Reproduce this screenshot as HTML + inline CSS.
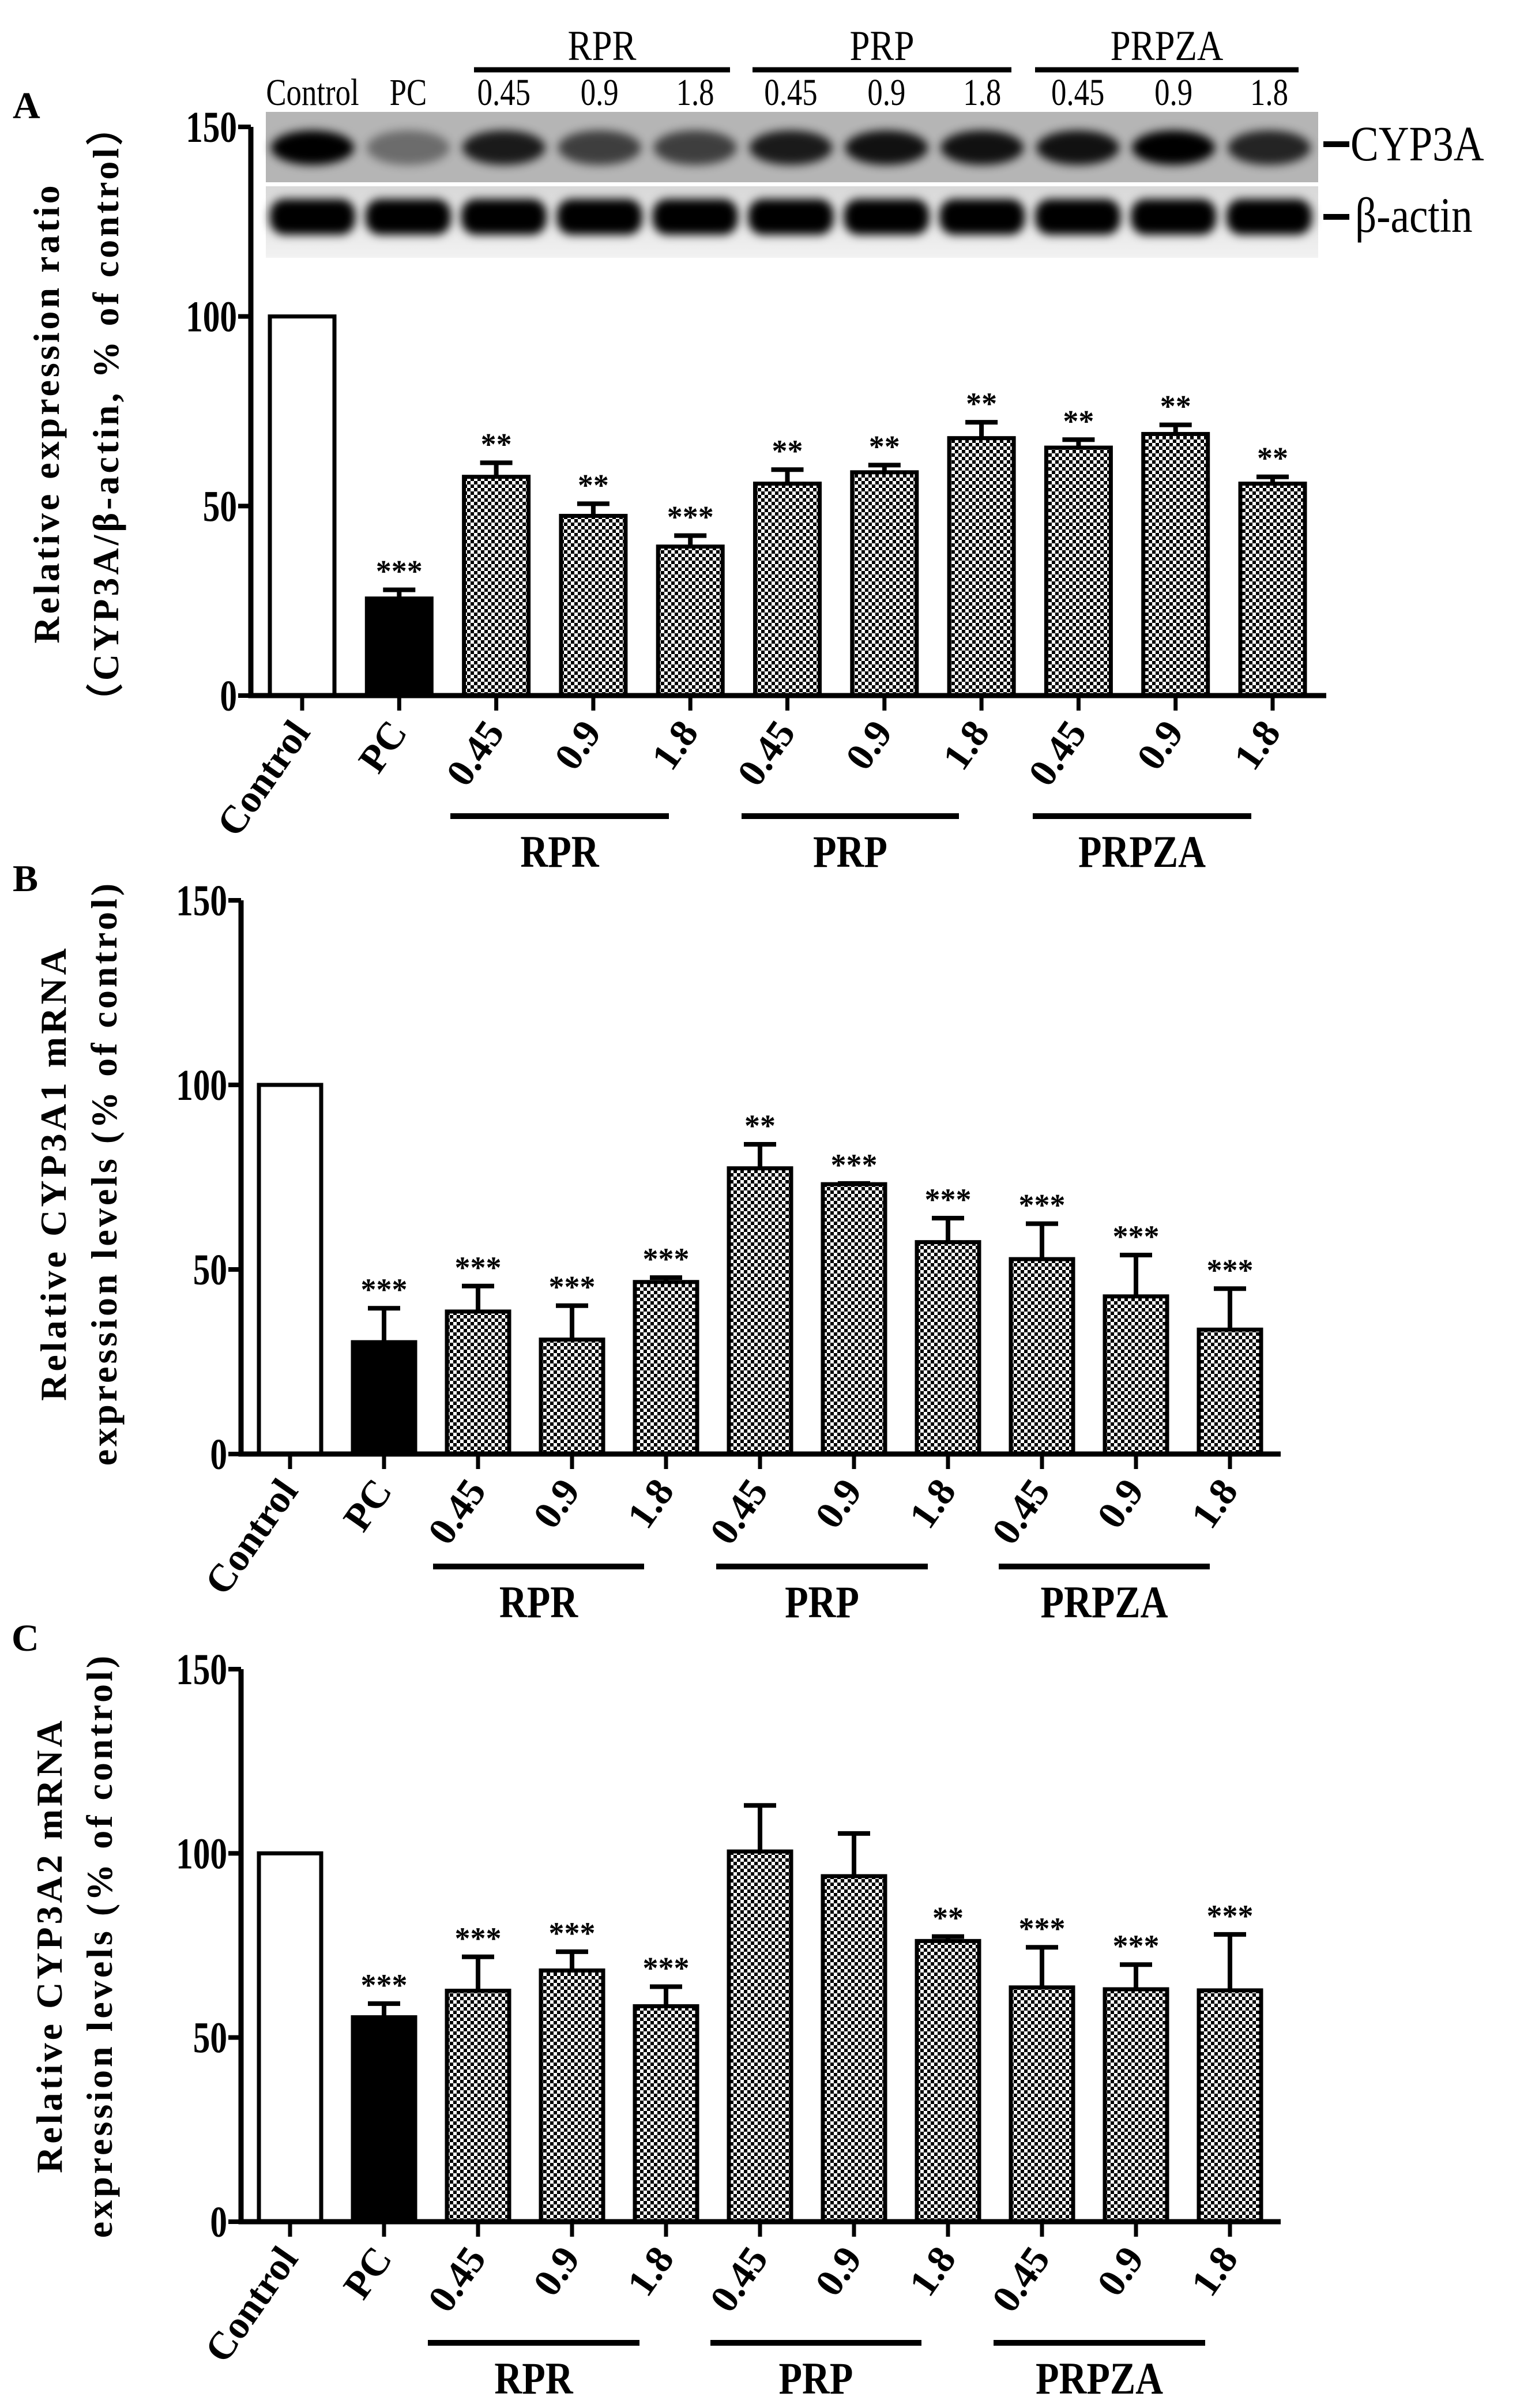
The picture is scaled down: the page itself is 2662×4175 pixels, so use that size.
<!DOCTYPE html>
<html><head><meta charset="utf-8"><style>
html,body{margin:0;padding:0;background:#fff;}
svg{display:block;font-family:"Liberation Serif",serif;font-weight:bold;}
</style></head><body>
<svg id="fig" width="2662" height="4175" viewBox="0 0 2662 4175" xmlns="http://www.w3.org/2000/svg">
<defs>
<pattern id="chk" width="12" height="12" patternUnits="userSpaceOnUse">
<rect width="12" height="12" fill="#fff"/>
<rect x="0" y="0" width="6" height="6" fill="#000"/>
<rect x="6" y="6" width="6" height="6" fill="#000"/>
</pattern>
<filter id="blur" x="-20%" y="-50%" width="140%" height="200%"><feGaussianBlur stdDeviation="8"/></filter>
<linearGradient id="bg2" x1="0" y1="0" x2="0" y2="1"><stop offset="0" stop-color="#d8d8d8"/><stop offset="1" stop-color="#f2f2f2"/></linearGradient>
</defs>
<g id="blot">
<rect x="461" y="194" width="1825" height="122" fill="#b5b5b5"/>
<rect x="461" y="323" width="1825" height="124" fill="url(#bg2)"/>
</g>
<g id="charts"></g>
</svg>
<script>
// ---- data ----
const categories = ["Control","PC","0.45","0.9","1.8","0.45","0.9","1.8","0.45","0.9","1.8"];
const groupNames = ["RPR","PRP","PRPZA"];
const yTicks = [0,50,100,150];
const aValues = [100,25.6,57.7,47.4,39.3,55.9,58.9,67.9,65.4,69,55.9];
const aErrTops = [100,27.9,61.4,50.6,42.2,59.6,60.8,72.1,67.5,71.4,57.7];
const aStars = ["","***","**","**","***","**","**","**","**","**","**"];
const bValues = [100,30.3,38.6,31,46.6,77.4,73.1,57.4,52.8,42.7,33.7];
const bErrTops = [100,39.5,45.5,40.2,47.8,83.9,73.3,63.9,62.4,53.9,44.8];
const bStars = ["","***","***","***","***","**","***","***","***","***","***"];
const cValues = [100,55.5,62.7,68.2,58.5,100.5,93.8,76.2,63.6,63.1,62.8];
const cErrTops = [100,59.2,71.9,73.3,63.8,113,105.4,77.4,74.5,69.8,78];
const cStars = ["","***","***","***","***","","","**","***","***","***"];
const cypIntensity = [1,0.4,0.85,0.65,0.65,0.85,0.9,0.9,0.9,1,0.8];
const actinIntensity = [1,1,1,1,1,1,1,1,1,1,1];

const NS="http://www.w3.org/2000/svg";
function mk(tag,attrs,parent,text){const e=document.createElementNS(NS,tag);for(const k in attrs)e.setAttribute(k,attrs[k]);if(text!==undefined)e.textContent=text;parent.appendChild(e);return e;}
const root=document.getElementById('charts');

const blot=document.getElementById('blot');
const laneX=i=>542+i*165.9;
cypIntensity.forEach((v,i)=>{
  const b=mk('ellipse',{cx:laneX(i),cy:256,rx:72,ry:30,fill:'#000',opacity:v,filter:'url(#blur)'},blot);
  
  
});
actinIntensity.forEach((v,i)=>{
  const b=mk('rect',{x:laneX(i)-74,y:345,width:148,height:62,rx:26,fill:'#000',opacity:v,filter:'url(#blur)'},blot);
  
  
});
categories.forEach((c,i)=>{
  const t=mk('text',{x:laneX(i),y:182,'font-size':66,'font-weight':'normal','text-anchor':'middle',transform:`translate(${laneX(i)},0) scale(0.8,1) translate(${-laneX(i)},0)`},blot,c);
  
  
});
[[822,1266],[1305,1754],[1795,2252]].forEach((g,i)=>{
  const l=mk('line',{x1:g[0],x2:g[1],y1:121,y2:121,stroke:'#000','stroke-width':9},blot);
  
  
  const cx=(g[0]+g[1])/2;
  const t=mk('text',{x:cx,y:104,'font-size':74,'font-weight':'normal','text-anchor':'middle',transform:`translate(${cx},0) scale(0.85,1) translate(${-cx},0)`},blot,groupNames[i]);
  
  
});
const m1=mk('line',{x1:2295,x2:2340,y1:250,y2:250,stroke:'#000','stroke-width':10},blot);


const t1=mk('text',{x:2342,y:278,'font-size':86,'font-weight':'normal',transform:'translate(2342,0) scale(0.85,1) translate(-2342,0)'},blot,'CYP3A');


const m2=mk('line',{x1:2295,x2:2340,y1:376,y2:376,stroke:'#000','stroke-width':10},blot);


const t2=mk('text',{x:2350,y:402,'font-size':86,'font-weight':'normal',transform:'translate(2350,0) scale(0.85,1) translate(-2350,0)'},blot,'β-actin');



function panel(p){
  const g=mk('g',{},root);
  
  
  const y=v=>p.y0-(v/150)*(p.y0-p.y150);
  const x=i=>p.x0+i*p.step;
  const lt=mk('text',{x:p.lx,y:p.ly,'font-size':66},g,p.letter);
  
  
  categories.forEach((c,i)=>{
    const fill=i===0?'#fff':(i===1?'#000':'url(#chk)');
    const r=mk('rect',{x:x(i)-p.bw/2,y:y(p.vals[i]),width:p.bw,height:y(0)-y(p.vals[i]),fill:fill,stroke:'#000','stroke-width':7},g);
    
    
    if(p.errs[i]>p.vals[i]+0.01){
      const e=mk('path',{d:`M${x(i)} ${y(p.vals[i])} V${y(p.errs[i])} M${x(i)-28} ${y(p.errs[i])} H${x(i)+28}`,stroke:'#000','stroke-width':8,fill:'none'},g);
      
      
    }
    if(p.stars[i]){
      const s=mk('text',{x:x(i),y:y(p.errs[i])-14,'font-size':54,'text-anchor':'middle'},g,p.stars[i]);
      
      
    }
    const tk=mk('line',{x1:x(i),x2:x(i),y1:y(0),y2:y(0)+26,stroke:'#000','stroke-width':7},g);
    
    
    const lb=mk('text',{x:x(i)+16,y:y(0)+64,'font-size':68,'text-anchor':'end',transform:`rotate(-55 ${x(i)+16} ${y(0)+64})`},g,c);
    
    
  });
  const ax=mk('path',{d:`M${p.ax} ${y(150)} V${y(0)} H${p.xend}`,stroke:'#000','stroke-width':9,fill:'none'},g);
  
  
  yTicks.forEach(v=>{
    const t=mk('line',{x1:p.ax-22,x2:p.ax,y1:y(v),y2:y(v),stroke:'#000','stroke-width':8},g);
    
    
    const tx=p.ax-24;
    const l=mk('text',{x:tx,y:y(v)+26,'font-size':76,'text-anchor':'end',transform:`translate(${tx},0) scale(0.78,1) translate(${-tx},0)`},g,String(v));
    
    
  });
  p.groups.forEach((gg,i)=>{
    const l=mk('line',{x1:gg[0],x2:gg[1],y1:p.gy,y2:p.gy,stroke:'#000','stroke-width':10},g);
    
    
    const cx=(gg[0]+gg[1])/2;
    const t=mk('text',{x:cx,y:p.gy+88,'font-size':78,'text-anchor':'middle',transform:`translate(${cx},0) scale(0.85,1) translate(${-cx},0)`},g,groupNames[i]);
    
    
  });
  p.titles.forEach((tt,i)=>{
    const t=mk('text',{x:0,y:0,'font-size':64,'text-anchor':'middle','letter-spacing':5,transform:`translate(${tt[1]},${p.ty}) rotate(-90)`},g,tt[0]);
    
    
  });
}
panel({letter:'A',lx:22,ly:205,ax:435,x0:524,step:168.3,bw:112,y0:1206,y150:220,xend:2300,vals:aValues,errs:aErrTops,stars:aStars,
  groups:[[781,1160],[1286,1663],[1791,2170]],gy:1415,ty:716,
  titles:[["Relative expression ratio",102],["（CYP3A/β-actin, % of control）",205]]});
panel({letter:'B',lx:22,ly:1545,ax:418,x0:503,step:163,bw:108,y0:2521,y150:1561,xend:2221,vals:bValues,errs:bErrTops,stars:bStars,
  groups:[[751,1117],[1242,1609],[1732,2098]],gy:2716,ty:2034,
  titles:[["Relative CYP3A1 mRNA",114],["expression levels (% of control)",202]]});
panel({letter:'C',lx:20,ly:2862,ax:418,x0:503,step:163,bw:108,y0:3852,y150:2894,xend:2221,vals:cValues,errs:cErrTops,stars:cStars,
  groups:[[742,1109],[1232,1598],[1723,2090]],gy:4062,ty:3373,
  titles:[["Relative CYP3A2 mRNA",107],["expression levels (% of control)",194]]});
</script>
</body></html>
